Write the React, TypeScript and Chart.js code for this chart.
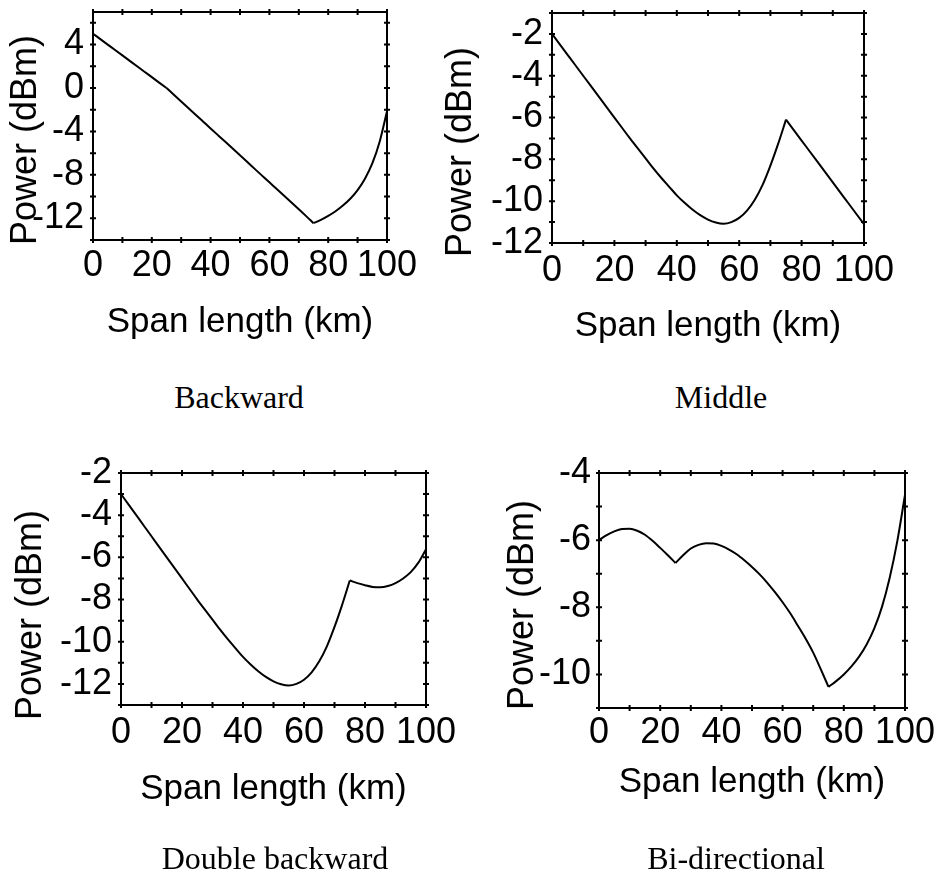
import React, { useEffect, useRef } from "react";
import { Chart, registerables } from "chart.js";

Chart.register(...registerables);

// ---------- data ----------
const KM = [
  0, 2.5, 5, 7.5, 10, 12.5, 15, 17.5, 20, 22.5, 25, 27.5, 30, 32.5, 35, 37.5, 40,
  42.5, 45, 47.5, 50, 52.5, 55, 57.5, 60, 62.5, 65, 67.5, 70, 72.5, 75, 77.5, 80,
  82.5, 85, 87.5, 90, 92.5, 95, 97.5, 100,
];

const BACKWARD = [
  5, 4.5, 4, 3.5, 3, 2.5, 2, 1.5, 1, 0.5, 0, -0.62, -1.24, -1.86, -2.48, -3.1,
  -3.72, -4.34, -4.96, -5.58, -6.2, -6.82, -7.45, -8.07, -8.69, -9.31, -9.93,
  -10.55, -11.17, -11.8, -12.45, -12.15, -11.78, -11.35, -10.83, -10.2, -9.4,
  -8.35, -6.95, -4.95, -2.15,
];

const MIDDLE = [
  -2, -2.5, -3, -3.5, -4, -4.5, -5, -5.5, -6, -6.5, -7, -7.48, -7.95, -8.43,
  -8.88, -9.3, -9.72, -10.08, -10.4, -10.67, -10.88, -11.02, -11.08, -11.0,
  -10.8, -10.45, -9.93, -9.22, -8.3, -7.25, -6.1, -6.6, -7.1, -7.6, -8.1, -8.6,
  -9.1, -9.6, -10.1, -10.6, -11.1,
];

const DOUBLE_BACKWARD = [
  -3, -3.5, -4, -4.5, -5, -5.5, -6, -6.5, -7, -7.5, -8, -8.48, -8.95, -9.43,
  -9.88, -10.3, -10.72, -11.08, -11.4, -11.67, -11.88, -12.02, -12.08, -12.0,
  -11.8, -11.45, -10.93, -10.22, -9.3, -8.25, -7.1, -7.22, -7.32, -7.4, -7.42,
  -7.36, -7.22, -7.0, -6.7, -6.25, -5.62,
];

const BI_DIRECTIONAL = [
  -6.0, -5.85, -5.74, -5.67, -5.66, -5.72, -5.84, -6.02, -6.23, -6.45, -6.68,
  -6.45, -6.25, -6.14, -6.09, -6.1, -6.17, -6.28, -6.42, -6.6, -6.8, -7.02,
  -7.27, -7.55, -7.85, -8.18, -8.55, -8.93, -9.35, -9.85, -10.37, -10.2, -10.0,
  -9.76, -9.47, -9.1, -8.62, -7.98, -7.12, -6.02, -4.65,
];

// pump positions where the curve has a corner
const PUMP_KM_BACKWARD = [25, 75];
const PUMP_KM_MIDDLE = [75];
const PUMP_KM_DOUBLE = [75];
const PUMP_KM_BI = [25, 75];

const X_TICKS = [0, 20, 40, 60, 80, 100];
const X_MINOR = [0, 10, 20, 30, 40, 50, 60, 70, 80, 90, 100];

const Y_TICKS_BACKWARD = [-12, -8, -4, 0, 4];
const Y_MINOR_BACKWARD = [-14, -12, -10, -8, -6, -4, -2, 0, 2, 4, 6];
const Y_TICKS_MIDDLE = [-12, -10, -8, -6, -4, -2];
const Y_MINOR_MIDDLE = [-12, -11, -10, -9, -8, -7, -6, -5, -4, -3, -2, -1];
const Y_TICKS_DOUBLE = [-12, -10, -8, -6, -4, -2];
const Y_MINOR_DOUBLE = [-13, -12, -11, -10, -9, -8, -7, -6, -5, -4, -3, -2];
const Y_TICKS_BI = [-10, -8, -6, -4];
const Y_MINOR_BI = [-11, -10, -9, -8, -7, -6, -5, -4];

const X_TITLE = "Span length (km)";
const Y_TITLE = "Power (dBm)";
const CAPTIONS = ["Backward", "Middle", "Double backward", "Bi-directional"];

// ---------- layout / style ----------
const SANS = '"Liberation Sans", Arial, sans-serif';
const SERIF = '"Liberation Serif", "Times New Roman", serif';
const TICK_SIZE = 36;

const PANELS = [
  {
    series: BACKWARD, breaks: PUMP_KM_BACKWARD, yMin: -14, yMax: 7,
    yTicks: Y_TICKS_BACKWARD, yMinor: Y_MINOR_BACKWARD, caption: CAPTIONS[0],
    box: { left: 0, top: 0, width: 470, height: 360 },
    pad: { left: 0, right: 83, top: 12, bottom: 5 },
    yWidth: 93, xHeight: 115, xTickPad: 4, xTitlePad: 12, yTickPad: 9,
    yTitle: { cx: 24, cy: 140 }, cap: { cx: 239, top: 381 },
  },
  {
    series: MIDDLE, breaks: PUMP_KM_MIDDLE, yMin: -12, yMax: -1,
    yTicks: Y_TICKS_MIDDLE, yMinor: Y_MINOR_MIDDLE, caption: CAPTIONS[1],
    box: { left: 470, top: 0, width: 469, height: 360 },
    pad: { left: 0, right: 75, top: 13, bottom: 5 },
    yWidth: 82, xHeight: 112, xTickPad: 6, xTitlePad: 8, yTickPad: 9,
    yTitle: { cx: 459, cy: 152 }, cap: { cx: 721, top: 381 },
  },
  {
    series: DOUBLE_BACKWARD, breaks: PUMP_KM_DOUBLE, yMin: -13, yMax: -2,
    yTicks: Y_TICKS_DOUBLE, yMinor: Y_MINOR_DOUBLE, caption: CAPTIONS[2],
    box: { left: 0, top: 440, width: 470, height: 433 },
    pad: { left: 0, right: 44, top: 33, bottom: 8 },
    yWidth: 121, xHeight: 160, xTickPad: 6, xTitlePad: 55, yTickPad: 9,
    yTitle: { cx: 29, cy: 615 }, cap: { cx: 275, top: 842 },
  },
  {
    series: BI_DIRECTIONAL, breaks: PUMP_KM_BI, yMin: -11, yMax: -4,
    yTicks: Y_TICKS_BI, yMinor: Y_MINOR_BI, caption: CAPTIONS[3],
    box: { left: 470, top: 440, width: 469, height: 433 },
    pad: { left: 0, right: 34, top: 33, bottom: 5 },
    yWidth: 129, xHeight: 160, xTickPad: 3, xTitlePad: 65, yTickPad: 8,
    yTitle: { cx: 521, cy: 605 }, cap: { cx: 736, top: 842 },
  },
];

const framePlugin = {
  id: "frame",
  afterDraw(chart: any, _args: any, opts: any) {
    const { ctx, chartArea: a, scales } = chart;
    const x = scales.x;
    const y = scales.y;
    ctx.save();
    ctx.strokeStyle = "#000";
    ctx.lineWidth = 2;
    ctx.strokeRect(a.left, a.top, a.right - a.left, a.bottom - a.top);
    ctx.beginPath();
    for (const v of opts.xMinor || []) {
      const px = x.getPixelForValue(v);
      ctx.moveTo(px, a.bottom - 3);
      ctx.lineTo(px, a.bottom + 3);
      ctx.moveTo(px, a.top - 3);
      ctx.lineTo(px, a.top + 3);
    }
    for (const v of opts.yMinor || []) {
      const py = y.getPixelForValue(v);
      ctx.moveTo(a.left - 3, py);
      ctx.lineTo(a.left + 3, py);
      ctx.moveTo(a.right - 3, py);
      ctx.lineTo(a.right + 3, py);
    }
    ctx.stroke();
    ctx.restore();
  },
};

function buildDatasets(series: number[], breaks: number[]) {
  const edges = [KM[0], ...breaks, KM[KM.length - 1]];
  const sets: any[] = [];
  for (let s = 0; s < edges.length - 1; s++) {
    const pts: { x: number; y: number }[] = [];
    KM.forEach((x, i) => {
      if (x >= edges[s] && x <= edges[s + 1]) pts.push({ x, y: series[i] });
    });
    sets.push({
      data: pts,
      borderColor: "#000",
      borderWidth: 2,
      pointRadius: 0,
      cubicInterpolationMode: "monotone",
      fill: false,
    });
  }
  return sets;
}

function Panel({ p }: { p: any }) {
  const ref = useRef<HTMLCanvasElement | null>(null);
  useEffect(() => {
    if (!ref.current) return;
    const chart = new Chart(ref.current, {
      type: "line",
      data: { datasets: buildDatasets(p.series, p.breaks) },
      options: {
        animation: false,
        responsive: false,
        maintainAspectRatio: false,
        layout: { padding: p.pad, autoPadding: false },
        plugins: {
          legend: { display: false },
          tooltip: { enabled: false },
          frame: { xMinor: X_MINOR, yMinor: p.yMinor },
        } as any,
        scales: {
          x: {
            type: "linear",
            min: 0,
            max: 100,
            afterBuildTicks: (s: any) => {
              s.ticks = X_TICKS.map((v) => ({ value: v }));
            },
            afterFit: (s: any) => {
              s.height = p.xHeight;
              s.paddingLeft = 0;
              s.paddingRight = 0;
            },
            grid: { display: false, drawTicks: false },
            border: { display: false },
            ticks: {
              padding: p.xTickPad,
              color: "#000",
              font: { family: SANS, size: TICK_SIZE },
              maxRotation: 0,
              minRotation: 0,
              autoSkip: false,
            },
            title: {
              display: true,
              text: X_TITLE,
              color: "#000",
              font: { family: SANS, size: 35 },
              padding: { top: 0, bottom: p.xTitlePad },
            },
          },
          y: {
            type: "linear",
            min: p.yMin,
            max: p.yMax,
            afterBuildTicks: (s: any) => {
              s.ticks = p.yTicks.map((v: number) => ({ value: v }));
            },
            afterFit: (s: any) => {
              s.width = p.yWidth;
              s.paddingTop = 0;
              s.paddingBottom = 0;
            },
            grid: { display: false, drawTicks: false },
            border: { display: false },
            ticks: {
              padding: p.yTickPad,
              color: "#000",
              font: { family: SANS, size: TICK_SIZE },
              autoSkip: false,
            },
          },
        },
      } as any,
      plugins: [framePlugin],
    });
    return () => chart.destroy();
  }, []);
  return (
    <canvas
      ref={ref}
      width={p.box.width}
      height={p.box.height}
      style={{
        position: "absolute",
        left: p.box.left,
        top: p.box.top,
        width: p.box.width,
        height: p.box.height,
      }}
    />
  );
}

export default function App() {
  return (
    <div
      style={{
        position: "absolute",
        left: 0,
        top: 0,
        width: 939,
        height: 873,
        background: "#fff",
        overflow: "hidden",
      }}
    >
      {PANELS.map((p, i) => (
        <React.Fragment key={i}>
          <Panel p={p} />
          <div
            style={{
              position: "absolute",
              left: p.yTitle.cx,
              top: p.yTitle.cy,
              transform: "translate(-50%, -50%) rotate(-90deg)",
              fontFamily: SANS,
              fontSize: 36,
              lineHeight: 1,
              whiteSpace: "nowrap",
              color: "#000",
            }}
          >
            {Y_TITLE}
          </div>
          <div
            style={{
              position: "absolute",
              left: p.cap.cx,
              top: p.cap.top,
              transform: "translateX(-50%)",
              fontFamily: SERIF,
              fontSize: 32,
              lineHeight: 1,
              whiteSpace: "nowrap",
              color: "#000",
            }}
          >
            {p.caption}
          </div>
        </React.Fragment>
      ))}
    </div>
  );
}
